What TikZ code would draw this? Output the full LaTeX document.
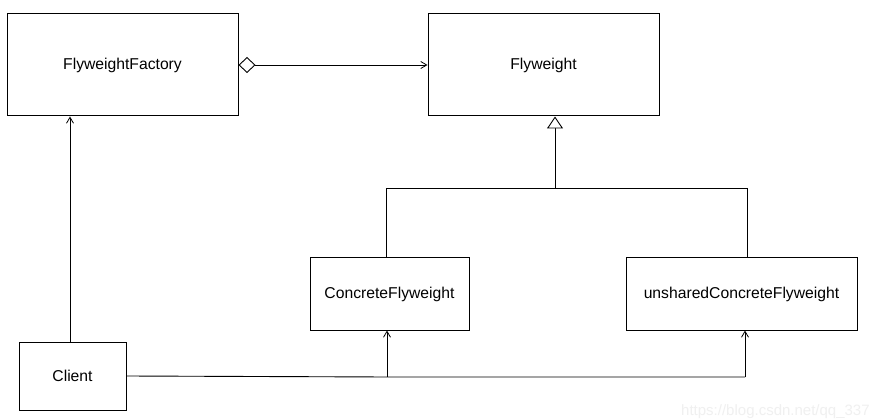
\documentclass[tikz,border=0pt]{standalone}
\usepackage{fontspec}
\setmainfont{Liberation Sans}
\usetikzlibrary{arrows.meta}
\begin{document}
\begin{tikzpicture}[x=1pt,y=-1pt,
  cls/.style={draw=black,line width=1pt,fill=white,font=\fontsize{15.7}{18}\selectfont,inner sep=0pt},
  conn/.style={draw=black,line width=0.9pt},
  openarr/.style={-{Straight Barb[length=6pt,width=7pt,line width=0.8pt]}},
  inherit/.style={-{Triangle[open,length=12pt,width=16pt,line width=0.9pt,fill=white]}},
  aggrarr/.style={{Diamond[open,length=17pt,width=16pt,line width=0.9pt,fill=white]}-{Straight Barb[length=6pt,width=7pt,line width=0.8pt]}}
]
\useasboundingbox (0,0) rectangle (877,419);
\fill[white] (0,0) rectangle (877,419);
\node[cls,minimum width=231pt,minimum height=102pt] (factory) at (122.5,65) {FlyweightFactory};
\node[cls,minimum width=231pt,minimum height=102pt] (fly) at (543.5,65) {Flyweight};
\node[cls,minimum width=159pt,minimum height=72pt] (concrete) at (389.5,294) {ConcreteFlyweight};
\node[cls,minimum width=231pt,minimum height=72pt] (unshared) at (741.5,294) {unsharedConcreteFlyweight};
\node[cls,minimum width=107pt,minimum height=68pt] (client) at (72.5,376) {Client};
\coordinate (tree) at (555,188);
\coordinate (treeL) at (386,188);
\coordinate (treeR) at (747,188);
\coordinate (cl1) at (387,377);
\coordinate (cl2) at (745,377);
% aggregation
\draw[conn,aggrarr] (factory.east) -- (fly.west);
% inheritance
\draw[conn,inherit] (tree) -- (tree |- fly.south);
\draw[conn] (concrete.north -| treeL) -- (treeL) -- (treeR) -- (unshared.north -| treeR);
% client
\draw[conn,openarr] (client.north -| 70,0) -- (factory.south -| 70,0);
\draw[conn] (client.east) -- (cl1) -- (cl2);
\draw[conn,openarr] (cl1) -- (cl1 |- concrete.south);
\draw[conn,openarr] (cl2) -- (cl2 |- unshared.south);
% watermark
\begin{scope}
\clip (0,0) rectangle (877,419);
\node[anchor=base west,inner sep=0pt,text=black!6,font=\fontsize{15}{18}\selectfont] (wm) at (681,415) {https://blog.csdn.net/qq\_337};
\end{scope}
\end{tikzpicture}
\end{document}
